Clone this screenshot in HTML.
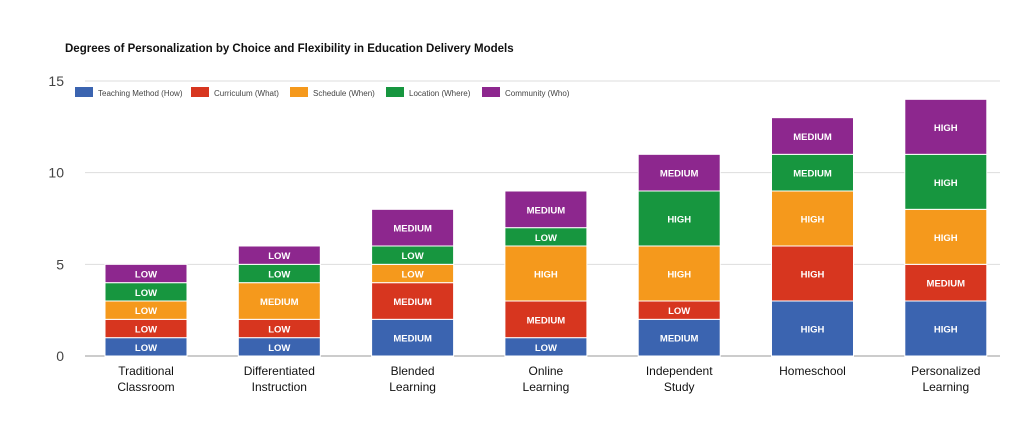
<!DOCTYPE html>
<html><head><meta charset="utf-8"><style>
body{margin:0;background:#fff;}
svg{display:block;font-family:"Liberation Sans",Arial,sans-serif;}
</style></head><body>
<svg id="chart" width="1030" height="439">
<text x="65" y="52" font-size="11.5" font-weight="bold" fill="#111">Degrees of Personalization by Choice and Flexibility in Education Delivery Models</text>
<g id="grid"></g><g id="bars"></g><g id="legend"></g><g id="xlabels"></g>
</svg>
<script>
const categories=[["Traditional","Classroom"],["Differentiated","Instruction"],["Blended","Learning"],["Online","Learning"],["Independent","Study"],["Homeschool"],["Personalized","Learning"]];
const seriesNames=["Teaching Method (How)","Curriculum (What)","Schedule (When)","Location (Where)","Community (Who)"];
const seriesColors=["#3b64b0","#d7361f","#f5991c","#17963f","#8d278e"];
const teaching=[1,1,2,1,2,3,3];
const curriculum=[1,1,2,2,1,3,2];
const schedule=[1,2,1,3,3,3,3];
const location_=[1,1,1,1,3,2,3];
const community=[1,1,2,2,2,2,3];
const yTicks=[0,5,10,15];
const levelLabels={1:"LOW",2:"MEDIUM",3:"HIGH"};
const series=[teaching,curriculum,schedule,location_,community];
const NS="http://www.w3.org/2000/svg";
const y0=356,y1=81,yMax=15;
const y=v=>y0-(y0-y1)*v/yMax;
const xc=i=>146+i*133.3;
const bw=82;
function mk(tag,attrs,parent){const e=document.createElementNS(NS,tag);for(const k in attrs)e.setAttribute(k,attrs[k]);parent.appendChild(e);return e;}
const grid=document.getElementById('grid');
yTicks.forEach(t=>{
 const l=mk('line',{x1:85,x2:1000,y1:y(t),y2:y(t),stroke:t===0?'#999':'#ddd','stroke-width':1},grid);
 
 
 const tx=mk('text',{x:64,y:y(t)+5,'font-size':14,fill:'#444','text-anchor':'end'},grid);
 tx.textContent=t;
 
 
});
const bars=document.getElementById('bars');
categories.forEach((c,i)=>{
 let acc=0;
 series.forEach((s,j)=>{
  const v=s[i];
  const r=mk('rect',{x:xc(i)-bw/2,y:y(acc+v),width:bw,height:y(acc)-y(acc+v),fill:seriesColors[j],stroke:'#fff','stroke-width':1},bars);
  
  
  const t=mk('text',{x:xc(i),y:(y(acc)+y(acc+v))/2+4,'font-size':9.5,'font-weight':'bold',fill:'#fff','text-anchor':'middle'},bars);
  t.textContent=levelLabels[v];
  
  
  acc+=v;
 });
});
const xl=document.getElementById('xlabels');
categories.forEach((c,i)=>{
 c.forEach((line,k)=>{
  const t=mk('text',{x:xc(i),y:375+k*16,'font-size':12,fill:'#111','text-anchor':'middle'},xl);
  t.textContent=line;
  
  
 });
});
const lg=document.getElementById('legend');
const lx=[75,191,290,386,482];
seriesNames.forEach((n,j)=>{
 const r=mk('rect',{x:lx[j],y:87,width:18,height:10,fill:seriesColors[j]},lg);
 
 
 const t=mk('text',{x:lx[j]+23,y:96,'font-size':8,fill:'#444'},lg);
 t.textContent=n;
 
 
});
</script>
</body></html>
